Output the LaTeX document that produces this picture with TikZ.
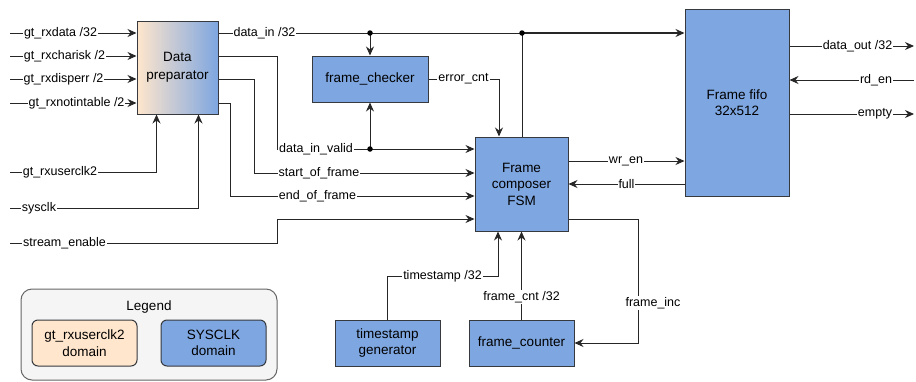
\documentclass[tikz,border=0pt]{standalone}
\usepackage{fontspec}
\setmainfont{Liberation Sans}
\usetikzlibrary{arrows.meta,calc}
\definecolor{blk}{HTML}{7EA6E0}
\definecolor{peach}{HTML}{FFE6CC}
\definecolor{legbg}{HTML}{F5F5F5}
\definecolor{legln}{HTML}{666666}
\definecolor{boxln}{HTML}{36393D}
\newcommand\myboxfont{\fontsize{13.5}{16.5}\selectfont}
\newcommand\mylblfont{\fontsize{12.5}{14}\selectfont}
\begin{document}
\begin{tikzpicture}[x=1pt,y=-1pt,
  blockbox/.style={draw=boxln,fill=blk,line width=1pt,inner sep=0pt,align=center,font=\myboxfont},
  wire/.style={draw=black!85,line width=0.9pt},
  arr/.style={wire,-{Stealth[length=9pt,width=8pt,inset=3pt]}},
  lbl/.style={fill=white,inner sep=1pt,font=\mylblfont},
  dot/.style={circle,fill=black,inner sep=0pt,minimum size=5.5pt}]
\useasboundingbox (0,0) rectangle (916,381);

% legend
\node[draw=legln,fill=legbg,line width=1pt,rounded corners=11pt,minimum width=256pt,minimum height=91pt,inner sep=0pt] (legend) at (149,334.5) {};
\node[font=\myboxfont] (legtitle) at (149,307) {Legend};
\node[draw=boxln,fill=peach,line width=1pt,rounded corners=6pt,minimum width=105pt,minimum height=46pt,inner sep=0pt,align=center,font=\myboxfont] (lg1) at (84.5,343) {gt\_rxuserclk2\\domain};
\node[draw=boxln,fill=blk,line width=1pt,rounded corners=6pt,minimum width=105pt,minimum height=46pt,inner sep=0pt,align=center,font=\myboxfont] (lg2) at (213.5,343) {SYSCLK\\domain};

% blocks
\node[blockbox,shading=axis,left color=peach,right color=blk,fill=none,minimum width=81pt,minimum height=93pt,font=\fontsize{13.5}{18}\selectfont] (dp) at (177.5,67.5) {Data\\preparator};
\node[blockbox,minimum width=116pt,minimum height=46pt] (fc) at (370,79) {frame\_checker};
\node[blockbox,minimum width=93pt,minimum height=94pt] (fsm) at (521.5,184) {Frame\\composer\\FSM};
\node[blockbox,minimum width=104pt,minimum height=187pt] (fifo) at (737,102.5) {Frame fifo\\32x512};
\node[blockbox,minimum width=105pt,minimum height=46pt] (tg) at (387.5,343) {timestamp\\generator};
\node[blockbox,minimum width=105pt,minimum height=46pt] (fcnt) at (521.5,343) {frame\_counter};

% free ends and junctions
\coordinate (i1) at (10,33);
\coordinate (i2) at (10,56);
\coordinate (i3) at (10,79);
\coordinate (i4) at (10,103);
\coordinate (i5) at (10,172);
\coordinate (i6) at (10,208);
\coordinate (i7) at (10,243);
\coordinate (o1) at (914,46);
\coordinate (o2) at (914,80);
\coordinate (o3) at (914,114);
\coordinate (j1) at (370,33);
\coordinate (j2) at (522,33);
\coordinate (j3) at (370,149);

% inputs
\draw[arr] (i1) -- (dp.west |- i1);
\draw[arr] (i2) -- (dp.west |- i2);
\draw[arr] (i3) -- (dp.west |- i3);
\draw[arr] (i4) -- (dp.west |- i4);
\draw[arr] (i5) -| ($(dp.south west)+(20,0)$);
\draw[arr] (i6) -| ($(dp.south east)+(-20,0)$);
\draw[arr] (i7) -- (277,243) -- (277,219) -- (fsm.west |- 0,219);

% data path
\draw[wire] (dp.east |- i1) -- (j2);
\draw[arr,line width=1.6pt] (j2) -- (fifo.west |- j2);
\draw[wire] (j2 |- fsm.north) -- (j2);
\draw[arr] (j1) -- (fc.north);
\draw[arr] (dp.east |- 0,56) -- (277,56) -- (277,149) -- (fsm.west |- 0,149);
\draw[arr] (j3) -- (fc.south);
\draw[arr] (dp.east |- 0,79) -- (254,79) -- (254,173) -- (fsm.west |- 0,173);
\draw[arr] (dp.east |- 0,103) -- (230,103) -- (230,196) -- (fsm.west |- 0,196);
\draw[arr] (fc.east) -| ($(fsm.north)+(-22.5,0)$);

% fsm <-> fifo
\draw[arr] (fsm.east |- 0,161) -- (fifo.west |- 0,161);
\draw[arr] (fifo.west |- 0,184) -- (fsm.east |- 0,184);
\draw[arr] (fifo.east |- o1) -- (o1);
\draw[arr] (o2) -- (fifo.east |- o2);
\draw[arr] (fifo.east |- o3) -- (o3);

% bottom
\draw[arr] (tg.north) |- ($(fsm.south)+(-23.5,45)$) -- ($(fsm.south)+(-23.5,0)$);
\draw[arr] (fcnt.north) -- (fsm.south);
\draw[arr] (fsm.east |- 0,219) -- (638,219) |- (fcnt.east);

% dots
\node[dot] (d1) at (j1) {};
\node[dot] (d2) at (j2) {};
\node[dot] (d3) at (j3) {};

% labels
\node[lbl] (l1) at (60.5,33) {gt\_rxdata /32};
\node[lbl] (l2) at (64.5,56) {gt\_rxcharisk /2};
\node[lbl] (l3) at (63.5,79) {gt\_rxdisperr /2};
\node[lbl] (l4) at (76.5,103) {gt\_rxnotintable /2};
\node[lbl] (l5) at (60,172) {gt\_rxuserclk2};
\node[lbl] (l6) at (39,208) {sysclk};
\node[lbl] (l7) at (64.5,243) {stream\_enable};
\node[lbl] (l8) at (264.5,33) {data\_in /32};
\node[lbl] (l9) at (316,149) {data\_in\_valid};
\node[lbl] (l10) at (319,173) {start\_of\_frame};
\node[lbl] (l11) at (317.5,196) {end\_of\_frame};
\node[lbl] (l12) at (463.5,79) {error\_cnt};
\node[lbl] (l13) at (626,161) {wr\_en};
\node[lbl] (l14) at (626.5,184) {full};
\node[lbl] (l15) at (857.5,46) {data\_out /32};
\node[lbl] (l16) at (876,80) {rd\_en};
\node[lbl] (l17) at (875,114) {empty};
\node[lbl] (l18) at (442.5,276) {timestamp /32};
\node[lbl] (l19) at (521.5,297) {frame\_cnt /32};
\node[lbl] (l20) at (653,303) {frame\_inc};
\end{tikzpicture}
\end{document}
